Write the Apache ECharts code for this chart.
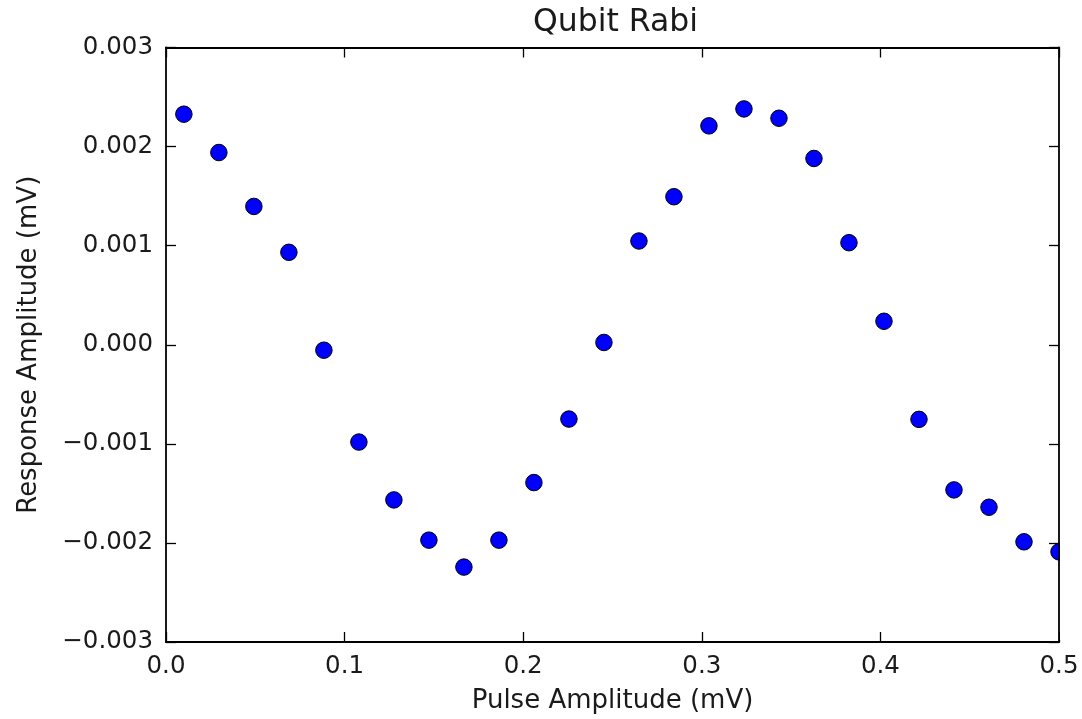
<!DOCTYPE html>
<html>
<head>
<meta charset="utf-8">
<script src="https://cdn.jsdelivr.net/npm/echarts@6/dist/echarts.min.js"></script>
<style>
html,body{margin:0;padding:0;background:#fff;}
#chart{width:1082px;height:719px;}
</style>
</head>
<body>
<div id="chart"></div>
<script>
var pulseAmplitude = [0.0100, 0.0296, 0.0492, 0.0688, 0.0884, 0.1080, 0.1276, 0.1472, 0.1668, 0.1864,
  0.2060, 0.2256, 0.2452, 0.2648, 0.2844, 0.3040, 0.3236, 0.3432, 0.3628, 0.3824,
  0.4020, 0.4216, 0.4412, 0.4608, 0.4804, 0.5000];
var responseAmplitude = [0.002327, 0.001940, 0.001396, 0.000933, -0.000055, -0.000982, -0.001566, -0.001972, -0.002244, -0.001972,
  -0.001391, -0.000750, 0.000023, 0.001047, 0.001494, 0.002209, 0.002380, 0.002286, 0.001880, 0.001030,
  0.000237, -0.000753, -0.001465, -0.001640, -0.001989, -0.002090];
var xTicks = [0, 0.1, 0.2, 0.3, 0.4, 0.5];
var yTicks = [-0.003, -0.002, -0.001, 0.000, 0.001, 0.002, 0.003];

var FONT = 'DejaVu Sans';
var TXT = '#1a1a1a';
var points = pulseAmplitude.map(function (x, i) { return [x, responseAmplitude[i]]; });

function fmtY(v) {
  var s = Math.abs(v).toFixed(3);
  return (v < -1e-9 ? '\u2212' : '') + s;
}
function fmtX(v) { return v.toFixed(1); }

var axisLineStyle = { color: '#000', width: 1.8 };

var chart = echarts.init(document.getElementById('chart'), null, { renderer: 'canvas' });
var option = {
  backgroundColor: '#fff',
  animation: false,
  title: {
    text: 'Qubit Rabi',
    left: 528, top: 2,
    textStyle: { fontFamily: FONT, fontSize: 31.5, fontWeight: 'normal', color: TXT }
  },
  grid: { left: 166, top: 47.5, right: 23, bottom: 76, containLabel: false },
  xAxis: [{
    type: 'value', min: xTicks[0], max: xTicks[xTicks.length - 1], interval: 0.1,
    position: 'bottom',
    name: 'Pulse Amplitude (mV)', nameLocation: 'middle', nameGap: 46,
    nameTextStyle: { fontFamily: FONT, fontSize: 26, color: TXT },
    axisLine: { show: true, onZero: false, lineStyle: axisLineStyle },
    axisTick: { show: true, inside: true, length: 10, lineStyle: { color: '#000', width: 1.3 } },
    axisLabel: { margin: 12, formatter: fmtX, fontFamily: FONT, fontSize: 24.5, color: TXT },
    splitLine: { show: false }
  }, {
    type: 'value', min: xTicks[0], max: xTicks[xTicks.length - 1], interval: 0.1,
    position: 'top', z: 5,
    axisLine: { show: true, onZero: false, lineStyle: axisLineStyle },
    axisTick: { show: true, inside: true, length: 10, lineStyle: { color: '#000', width: 1.3 } },
    axisLabel: { show: false },
    splitLine: { show: false }
  }],
  yAxis: [{
    type: 'value', min: yTicks[0], max: yTicks[yTicks.length - 1], interval: 0.001,
    position: 'left',
    name: 'Response Amplitude (mV)', nameLocation: 'middle', nameGap: 124,
    nameTextStyle: { fontFamily: FONT, fontSize: 26, color: TXT },
    axisLine: { show: true, onZero: false, lineStyle: axisLineStyle },
    axisTick: { show: true, inside: true, length: 10, lineStyle: { color: '#000', width: 1.3 } },
    axisLabel: { margin: 13, formatter: fmtY, fontFamily: FONT, fontSize: 24.5, color: TXT },
    splitLine: { show: false }
  }, {
    type: 'value', min: yTicks[0], max: yTicks[yTicks.length - 1], interval: 0.001,
    position: 'right', z: 5,
    axisLine: { show: true, onZero: false, lineStyle: axisLineStyle },
    axisTick: { show: true, inside: true, length: 10, lineStyle: { color: '#000', width: 1.3 } },
    axisLabel: { show: false },
    splitLine: { show: false }
  }],
  series: [{
    type: 'scatter',
    xAxisIndex: 0, yAxisIndex: 0,
    data: points,
    symbol: 'circle',
    symbolSize: 16.5,
    itemStyle: { color: '#0000ff', borderColor: '#000', borderWidth: 1, opacity: 1 },
    z: 2
  }]
};
chart.setOption(option);

// mask marker parts that overflow the plotting frame on the right (like matplotlib clipping)
var tr = chart.convertToPixel({ gridIndex: 0 }, [xTicks[xTicks.length - 1], yTicks[yTicks.length - 1]]);
var bl = chart.convertToPixel({ gridIndex: 0 }, [xTicks[0], yTicks[0]]);
chart.setOption({
  graphic: [{
    type: 'rect', z: 3,
    shape: { x: tr[0] + 1, y: tr[1] + 2, width: chart.getWidth() - tr[0], height: bl[1] - tr[1] - 4 },
    style: { fill: '#fff' }
  }]
});
</script>
</body>
</html>
